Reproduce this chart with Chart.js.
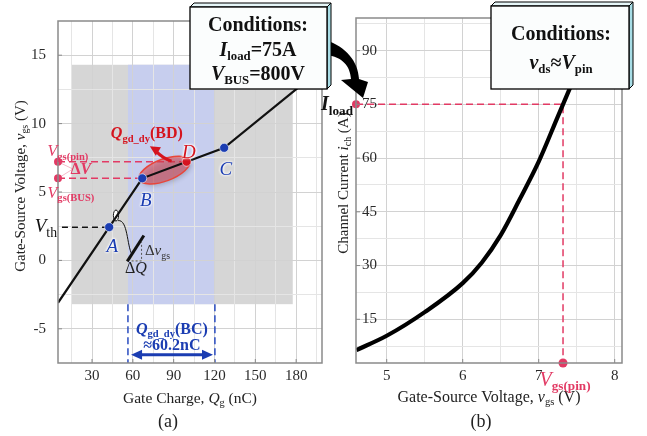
<!DOCTYPE html>
<html>
<head>
<meta charset="utf-8">
<script src="https://cdn.jsdelivr.net/npm/chart.js@4.4.1/dist/chart.umd.min.js"></script>
<style>
  body { margin: 0; background: #fff; }
  #fig { position: relative; width: 647px; height: 436px; overflow: hidden; font-family: "Liberation Serif", serif; color: #222; }
  #fig canvas, #fig svg { position: absolute; top: 0; }
  .t { position: absolute; white-space: nowrap; line-height: 1; }
  .t sub { font-size: 0.66em; vertical-align: baseline; position: relative; top: 0.32em; }
  .c { transform: translate(-50%, -50%); }
  .r { transform: translate(-100%, -50%); }
  .l { transform: translate(0, -50%); }
  .pt { font-style: italic; font-size: 19px; text-shadow: 0 0 2px #fff, 0 0 3px #fff, 0 0 3px #fff; }
  .bx { font-weight: bold; font-size: 20px; color: #111; }
  .bx sub { font-size: 0.64em; }
</style>
</head>
<body>
<div id="fig">
  <canvas id="cA" width="330" height="436" style="left:0"></canvas>
  <canvas id="cB" width="337" height="436" style="left:310px"></canvas>
  <svg width="647" height="436" style="left:0">
    <!-- curved pointer from the left box to I_load -->
    <path d="M326 40 C346 47 358 61 359 79 L368 82 L363 98 L341 80 L351 79 C350 66 343 57 326 55 Z" fill="#000"/>
    <!-- left box -->
    <polygon points="190,7 194,3 331,3 327,7" fill="#e6f6f8" stroke="#000" stroke-width="1"/>
    <polygon points="327,7 331,3 331,85 327,89" fill="#a8dde6" stroke="#000" stroke-width="1"/>
    <rect x="190" y="7" width="137" height="82" fill="#fbfdfd" stroke="#000" stroke-width="1.3"/>
    <!-- right box -->
    <polygon points="491,6 495,2 633,2 629,6" fill="#e6f6f8" stroke="#000" stroke-width="1"/>
    <polygon points="629,6 633,2 633,85 629,89" fill="#a8dde6" stroke="#000" stroke-width="1"/>
    <rect x="491" y="6" width="138" height="83" fill="#fbfdfd" stroke="#000" stroke-width="1.3"/>
  </svg>

  <div class="t c bx" style="left:258px;top:24px">Conditions:</div>
  <div class="t c bx" style="left:258px;top:49px"><i>I</i><sub>load</sub>=75A</div>
  <div class="t c bx" style="left:258px;top:73px"><i>V</i><sub>BUS</sub>=800V</div>
  <div class="t c bx" style="left:561px;top:33px">Conditions:</div>
  <div class="t c bx" style="left:561px;top:62px"><i>v</i><sub>ds</sub>≈<i>V</i><sub>pin</sub></div>

  <div class="t c" style="left:190px;top:398px;font-size:15.5px">Gate Charge, <i>Q</i><sub>g</sub> (nC)</div>
  <div class="t c" style="left:489px;top:397px;font-size:16px">Gate-Source Voltage, <i>v</i><sub>gs</sub> (V)</div>
  <div class="t" style="left:20px;top:186px;font-size:15px;transform:translate(-50%,-50%) rotate(-90deg)">Gate-Source Voltage, <i>v</i><sub>gs</sub> (V)</div>
  <div class="t" style="left:343px;top:183px;font-size:15px;transform:translate(-50%,-50%) rotate(-90deg)">Channel Current <i>i</i><sub>ch</sub> (A)</div>
  <div class="t c" style="left:168px;top:421px;font-size:18px">(a)</div>
  <div class="t c" style="left:481px;top:421px;font-size:18px">(b)</div>
</div>

<script>
// (a) gate charge curve
const qRange = [5, 199];
const vRange = [-7.5, 17.5];
const qgCurve = [5, 66.9, 127.1, 186];
const vgsCurve = [-3.1, 6.0, 8.23, 13.0];
const markNames = ['A', 'B', 'D', 'C'];
const markQ = [42.6, 66.9, 99.5, 127.1];
const markV = [2.43, 6.0, 7.21, 8.23];
const qGrid = [15, 30, 45, 60, 75, 90, 105, 120, 135, 150, 165, 180, 195];
const qLabels = [30, 60, 90, 120, 150, 180];
const vGrid = [-5, -2.5, 0, 2.5, 5, 7.5, 10, 12.5, 15];
const vLabels = [-5, 0, 5, 10, 15];
const shadeQ = [15, 177.5];
const shadeV = [-3.2, 14.3];
const bandQ = [56.4, 120.3];
const arrowQ = [58.7, 118.9];   // Qgd_dy(BC) ~ 60.2 nC
const arrowV = -6.9;

// (b) transfer curve
const vRangeB = [4.596, 8.096];
const iRange = [2.8, 99.1];
const vgsT = [4.6, 5.0, 5.5, 6.0, 6.25, 6.5, 6.75, 7.0, 7.25, 7.32, 7.44];
const ichT = [6.4, 10.4, 17.0, 25.1, 30.8, 38.5, 48.5, 59.0, 71.5, 75, 81.0];
const iLoad = 75;
const vPin = 7.32;
const vGridB = [5, 5.5, 6, 6.5, 7, 7.5, 8];
const vLabelsB = [5, 6, 7, 8];
const iGrid = [7.5, 15, 22.5, 30, 37.5, 45, 52.5, 60, 67.5, 75, 82.5, 90, 97.5];
const iLabels = [15, 30, 45, 60, 75, 90];

const BLUE = '#1b3db2', RED = '#d5141f', PINK = '#e23a64';
const serif = { family: 'Liberation Serif', size: 15 };

const vth = markV[0], vgsBus = markV[1], vgsPin = markV[2];

function gridColor(labels) {
  return c => (c.tick && labels.includes(c.tick.value)) ? '#d2d2d2' : '#e5e5e5';
}
function fixTicks(list) {
  return s => { s.ticks = list.map(v => ({ value: v })); };
}
function showIf(labels) {
  return v => labels.includes(v) ? String(v) : '';
}
const toPx = c => (x, y) => [c.scales.x.getPixelForValue(x), c.scales.y.getPixelForValue(y)];

function arrowHead(ctx, x, y, ang, len, w) {
  const bx = x - len * Math.cos(ang), by = y - len * Math.sin(ang);
  ctx.beginPath();
  ctx.moveTo(x, y);
  ctx.lineTo(bx + w / 2 * Math.sin(ang), by - w / 2 * Math.cos(ang));
  ctx.lineTo(bx - w / 2 * Math.sin(ang), by + w / 2 * Math.cos(ang));
  ctx.closePath();
  ctx.fill();
}
function dashed(ctx, pts, color, dash, w) {
  ctx.save();
  ctx.strokeStyle = color; ctx.lineWidth = w; ctx.setLineDash(dash);
  ctx.beginPath();
  pts.forEach((p, i) => i ? ctx.lineTo(p[0], p[1]) : ctx.moveTo(p[0], p[1]));
  ctx.stroke();
  ctx.restore();
}

// plot box + inward ticks
const frame = {
  id: 'frame',
  afterDraw(c) {
    const { ctx, chartArea: a } = c;
    ctx.save();
    ctx.strokeStyle = '#8a8a8a';
    ctx.lineWidth = 1.5;
    ctx.strokeRect(a.left, a.top, a.right - a.left, a.bottom - a.top);
    ctx.lineWidth = 1;
    ctx.beginPath();
    c.scales.x.ticks.forEach(t => {
      if (!t.label) return;
      const x = c.scales.x.getPixelForValue(t.value);
      ctx.moveTo(x, a.bottom); ctx.lineTo(x, a.bottom - 4);
    });
    c.scales.y.ticks.forEach(t => {
      if (!t.label) return;
      const y = c.scales.y.getPixelForValue(t.value);
      ctx.moveTo(a.left, y); ctx.lineTo(a.left + 4, y);
    });
    ctx.stroke();
    ctx.restore();
  }
};

const decorA = {
  id: 'decorA',
  beforeDraw(c) {
    const ctx = c.ctx, P = toPx(c);
    const [x0, y0] = P(shadeQ[0], shadeV[1]);
    const [x1, y1] = P(shadeQ[1], shadeV[0]);
    const [b0] = P(bandQ[0], 0), [b1] = P(bandQ[1], 0);
    ctx.save();
    ctx.fillStyle = '#d6d6d6';
    ctx.fillRect(x0, y0, x1 - x0, y1 - y0);
    ctx.fillStyle = '#c7ceee';
    ctx.fillRect(b0, y0, b1 - b0, y1 - y0);
    ctx.restore();
  },
  beforeDatasetsDraw(c) {
    const ctx = c.ctx, P = toPx(c);
    // Vgs(pin) / Vgs(BUS) guides and Vth guide
    dashed(ctx, [P(qRange[0], vgsPin), P(markQ[2], vgsPin)], PINK, [7, 4], 1.5);
    dashed(ctx, [P(qRange[0], vgsBus), P(markQ[1], vgsBus)], PINK, [7, 4], 1.5);
    dashed(ctx, [P(7.9, vth), P(markQ[0], vth)], '#111', [6, 4], 1.5);
    // faint bracket to the delta V label
    const dv = P(21.8, 6.68);
    ctx.save();
    ctx.strokeStyle = 'rgba(226,58,100,0.35)';
    ctx.lineWidth = 1;
    ctx.beginPath();
    ctx.moveTo(...P(qRange[0], vgsPin)); ctx.lineTo(dv[0] - 8, dv[1]);
    ctx.moveTo(...P(qRange[0], vgsBus)); ctx.lineTo(dv[0] - 8, dv[1]);
    ctx.stroke();
    ctx.restore();

    // BD ellipse
    const pb = P(markQ[1], markV[1]), pd = P(markQ[2], markV[2]);
    const cx = (pb[0] + pd[0]) / 2, cy = (pb[1] + pd[1]) / 2;
    const ang = Math.atan2(pd[1] - pb[1], pd[0] - pb[0]);
    const half = Math.hypot(pd[0] - pb[0], pd[1] - pb[1]) / 2 + 3;
    ctx.save();
    ctx.shadowColor = 'rgba(0,0,0,0.35)';
    ctx.shadowBlur = 5; ctx.shadowOffsetX = 2; ctx.shadowOffsetY = 2;
    ctx.beginPath();
    ctx.ellipse(cx, cy, half, 11, ang, 0, Math.PI * 2);
    ctx.fillStyle = 'rgba(220,70,80,0.55)';
    ctx.fill();
    ctx.shadowColor = 'transparent';
    ctx.strokeStyle = '#e8453a';
    ctx.lineWidth = 1.5;
    ctx.stroke();
    ctx.restore();

    // magnifier: small ellipse, connector, tangent segment
    const m = P(47.6, 3.28);
    ctx.save();
    ctx.strokeStyle = '#111';
    ctx.lineWidth = 1;
    ctx.beginPath();
    ctx.ellipse(m[0], m[1], 2.6, 5.5, 0, 0, Math.PI * 2);
    ctx.fillStyle = '#fff';
    ctx.fill();
    ctx.stroke();
    const k0 = P(49.2, 2.91), k1 = P(56.3, 2.99), k2 = P(55.6, 1.10), k3 = P(59.3, 0.44);
    ctx.beginPath();
    ctx.moveTo(...k0);
    ctx.bezierCurveTo(...k1, ...k2, ...k3);
    ctx.stroke();
    ctx.lineWidth = 3;
    ctx.beginPath();
    ctx.moveTo(...P(55.9, -0.07)); ctx.lineTo(...P(68.1, 1.82));
    ctx.stroke();
    ctx.restore();
    dashed(ctx, [P(59.1, -0.04), P(66.4, -0.04), P(66.4, 1.33)], '#555', [2, 2], 1);
  },
  afterDatasetsDraw(c) {
    const ctx = c.ctx, P = toPx(c);
    // Qgd_dy(BD) pointer
    const t0 = P(88.5, 7.26), t1 = P(72.5, 8.35);
    ctx.save();
    ctx.strokeStyle = RED; ctx.fillStyle = RED; ctx.lineWidth = 3;
    ctx.beginPath();
    ctx.moveTo(...t0);
    ctx.quadraticCurveTo(t0[0] - 8, t0[1] - 2, t1[0] + 6, t1[1] + 5);
    ctx.stroke();
    arrowHead(ctx, t1[0], t1[1], Math.atan2(t1[1] - t0[1] + 4, t1[0] - t0[0] + 4), 10, 10);
    ctx.restore();

    // Qgd_dy(BC) span
    const yb = c.scales.y.getPixelForValue(vRange[0]);
    bandQ.forEach(q => dashed(ctx, [P(q, shadeV[0]), [c.scales.x.getPixelForValue(q), yb]], '#2a4cc0', [7, 4], 1.5));
    const a0 = P(arrowQ[0], arrowV), a1 = P(arrowQ[1], arrowV);
    ctx.save();
    ctx.strokeStyle = BLUE; ctx.fillStyle = BLUE; ctx.lineWidth = 3;
    ctx.beginPath();
    ctx.moveTo(a0[0] + 8, a0[1]); ctx.lineTo(a1[0] - 8, a1[1]);
    ctx.stroke();
    arrowHead(ctx, a1[0], a1[1], 0, 11, 10);
    arrowHead(ctx, a0[0], a0[1], Math.PI, 11, 10);
    ctx.restore();
  }
};

const decorB = {
  id: 'decorB',
  beforeDatasetsDraw(c) {
    const P = toPx(c);
    dashed(c.ctx, [P(vRangeB[0], iLoad), P(vPin, iLoad), P(vPin, iRange[0])], PINK, [7, 4], 1.5);
  }
};

function axes(xr, xg, xl, yr, yg, yl, yWidth, mirror) {
  return {
    x: {
      type: 'linear', min: xr[0], max: xr[1],
      afterFit: s => { s.height = 73; },
      afterBuildTicks: fixTicks(xg),
      grid: { color: gridColor(xl), drawTicks: false },
      border: { display: false },
      ticks: { padding: 4, autoSkip: false, maxRotation: 0, font: serif, color: '#2a2a2a', callback: showIf(xl) }
    },
    y: {
      type: 'linear', min: yr[0], max: yr[1],
      afterFit: s => { s.width = yWidth; },
      afterBuildTicks: fixTicks(yg),
      grid: { color: gridColor(yl), drawTicks: false },
      border: { display: false },
      ticks: { padding: mirror ? 6 : 12, mirror: mirror, autoSkip: false, font: serif, color: '#2a2a2a', callback: showIf(yl) }
    }
  };
}

const chartA = new Chart(document.getElementById('cA'), {
  type: 'scatter',
  data: {
    datasets: [
      {
        data: markQ.map((q, i) => ({ x: q, y: markV[i] })),
        pointRadius: 4.5,
        pointBackgroundColor: markNames.map(n => n === 'D' ? RED : BLUE),
        pointBorderColor: '#fff', pointBorderWidth: 0.6
      },
      {
        data: [{ x: qRange[0], y: vgsPin }, { x: qRange[0], y: vgsBus }],
        pointRadius: 4, pointBackgroundColor: PINK, pointBorderWidth: 0, clip: false
      },
      {
        data: qgCurve.map((q, i) => ({ x: q, y: vgsCurve[i] })),
        showLine: true, borderColor: '#111', borderWidth: 2.2, pointRadius: 0, tension: 0
      }
    ]
  },
  options: {
    responsive: false, animation: false, events: [],
    layout: { padding: { top: 18, right: 8, left: 0, bottom: 0 } },
    plugins: { legend: { display: false }, tooltip: { enabled: false } },
    scales: axes(qRange, qGrid, qLabels, vRange, vGrid, vLabels, 58, false)
  },
  plugins: [decorA, frame]
});

const chartB = new Chart(document.getElementById('cB'), {
  type: 'scatter',
  data: {
    datasets: [
      {
        data: [{ x: vRangeB[0], y: iLoad }, { x: vPin, y: iRange[0] }],
        pointRadius: [4, 4.5], pointBackgroundColor: PINK, pointBorderWidth: 0, clip: false
      },
      {
        data: vgsT.map((v, i) => ({ x: v, y: ichT[i] })),
        showLine: true, borderColor: '#000', borderWidth: 4.2, pointRadius: 0,
        cubicInterpolationMode: 'monotone'
      }
    ]
  },
  options: {
    responsive: false, animation: false, events: [],
    layout: { padding: { top: 18, right: 25, left: 0, bottom: 0 } },
    plugins: { legend: { display: false }, tooltip: { enabled: false } },
    scales: axes(vRangeB, vGridB, vLabelsB, iRange, iGrid, iLabels, 46, true)
  },
  plugins: [decorB, frame]
});

// text annotations, anchored in data units
function placeNotes(chart, left, notes) {
  const fig = document.getElementById('fig');
  notes.forEach(n => {
    const el = document.createElement('div');
    el.className = 't ' + (n.align || 'c') + (n.cls ? ' ' + n.cls : '');
    el.innerHTML = n.html;
    if (n.style) el.style.cssText = n.style;
    el.style.left = (left + chart.scales.x.getPixelForValue(n.x) + (n.dx || 0)) + 'px';
    el.style.top = (chart.scales.y.getPixelForValue(n.y) + (n.dy || 0)) + 'px';
    fig.appendChild(el);
  });
}

placeNotes(chartA, 0, [
  { x: 45.0, y: 1.09, cls: 'pt', style: 'color:' + BLUE, html: 'A' },
  { x: 69.6, y: 4.50, cls: 'pt', style: 'color:' + BLUE, html: 'B' },
  { x: 128.4, y: 6.75, cls: 'pt', style: 'color:' + BLUE, html: 'C' },
  { x: 101.2, y: 7.98, cls: 'pt', style: 'color:' + RED, html: 'D' },
  { x: qRange[0], y: vth, dx: -1, dy: -2, align: 'r', style: 'font-size:19px;color:#111',
    html: '<i>V</i><sub style="font-size:0.72em">th</sub>' },
  { x: 12.3, y: 7.98, style: 'font-size:16px;color:' + PINK,
    html: '<i>V</i><sub style="font-weight:bold">gs(pin)</sub>' },
  { x: 14.5, y: 4.94, style: 'font-size:16px;color:' + PINK,
    html: '<i>V</i><sub style="font-weight:bold">gs(BUS)</sub>' },
  { x: 21.8, y: 6.68, style: 'font-size:16px;font-weight:bold;color:' + PINK, html: 'Δ<i>V</i>' },
  { x: 70.3, y: 9.29, style: 'font-size:16px;font-weight:bold;color:' + RED,
    html: '<i>Q</i><sub>gd_dy</sub>(BD)' },
  { x: 68.9, y: 0.73, align: 'l', style: 'font-size:15px;color:#333', html: 'Δ<i>v</i><sub>gs</sub>' },
  { x: 62.2, y: -0.57, style: 'font-size:16px;color:#222', html: 'Δ<i>Q</i>' },
  { x: 88.7, y: -4.99, style: 'font-size:16px;font-weight:bold;color:' + BLUE,
    html: '<i>Q</i><sub>gd_dy</sub>(BC)' },
  { x: 88.7, y: -6.22, style: 'font-size:16px;font-weight:bold;color:' + BLUE, html: '≈60.2nC' }
]);

placeNotes(chartB, 310, [
  { x: vRangeB[0], y: iLoad, dx: -3, dy: -1, align: 'r', style: 'font-size:20px;font-weight:bold;color:#111',
    html: '<i>I</i><sub>load</sub>' },
  { x: vPin, y: iRange[0], dx: 2, dy: 16, style: 'font-size:20px;color:' + PINK,
    html: '<i>V</i><sub style="font-weight:bold">gs(pin)</sub>' }
]);
</script>
</body>
</html>
